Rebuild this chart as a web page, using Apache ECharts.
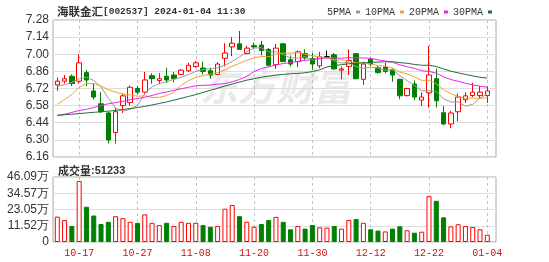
<!DOCTYPE html>
<html><head><meta charset="utf-8">
<script src="https://cdn.jsdelivr.net/npm/echarts@6/dist/echarts.min.js"></script>
<style>html,body{margin:0;padding:0;background:#fff}#c{width:549px;height:262px}</style>
</head><body><div id="c"></div>
<script>
const dates = ['10-12','10-13','10-16','10-17','10-18','10-19','10-20','10-23','10-24','10-25','10-26','10-27','10-30','10-31',
'11-01','11-02','11-03','11-06','11-07','11-08','11-09','11-10','11-13','11-14','11-15','11-16','11-17','11-20','11-21','11-22','11-23','11-24','11-27','11-28','11-29','11-30',
'12-01','12-04','12-05','12-06','12-07','12-08','12-11','12-12','12-13','12-14','12-15','12-18','12-19','12-20','12-21','12-22','12-25','12-26','12-27','12-28','12-29',
'01-02','01-03','01-04'];
const opens = [6.75,6.78,6.82,6.78,6.85,6.70,6.595,6.52,6.36,6.58,6.605,6.72,6.69,6.825,6.785,6.82,6.83,6.835,6.865,6.90,
6.887,6.865,6.835,6.967,7.06,7.085,7.005,7.07,7.075,7.04,6.915,7.085,6.955,6.94,7.005,6.965,6.905,6.98,6.995,6.87,
6.90,7.005,6.795,6.96,6.89,6.895,6.87,6.795,6.662,6.757,6.625,6.685,6.80,6.522,6.43,6.53,6.628,6.663,6.662,6.662];
const closes = [6.78,6.80,6.76,6.93,6.79,6.65,6.53,6.30,6.53,6.66,6.73,6.69,6.79,6.80,6.80,6.79,6.80,6.87,6.91,6.93,
6.86,6.83,6.92,7.01,7.09,7.04,7.05,7.06,7.03,6.91,7.05,6.94,6.92,7.02,6.97,6.92,6.98,6.98,6.88,6.88,
6.95,6.80,6.92,6.92,6.85,6.86,6.83,6.66,6.72,6.65,6.65,6.83,6.62,6.43,6.52,6.65,6.66,6.69,6.69,6.70];
const lows = [6.70,6.76,6.74,6.76,6.74,6.63,6.52,6.27,6.27,6.52,6.58,6.67,6.67,6.76,6.755,6.765,6.77,6.83,6.855,6.887,
6.833,6.80,6.83,6.90,6.985,7.035,7.00,7.04,6.99,6.90,6.88,6.935,6.90,6.895,6.955,6.875,6.885,6.965,6.875,6.795,
6.83,6.795,6.75,6.90,6.84,6.845,6.775,6.632,6.655,6.625,6.577,6.562,6.565,6.42,6.395,6.452,6.602,6.65,6.635,6.602];
const highs = [6.81,6.83,6.835,7.00,6.87,6.76,6.69,6.53,6.56,6.68,6.745,6.74,6.855,6.845,6.845,6.89,6.855,6.88,6.93,6.945,
6.94,6.89,6.935,7.09,7.14,7.19,7.07,7.095,7.11,7.05,7.085,7.09,6.99,7.03,7.04,7.01,7.02,7.03,7.01,6.90,
7.04,7.01,6.94,6.97,6.905,6.93,6.885,6.80,6.727,6.785,6.688,7.068,6.882,6.576,6.537,6.68,6.69,6.766,6.738,6.738];
const ma5 = [6.74,6.75,6.77,6.80,6.812,6.786,6.732,6.640,6.560,6.534,6.550,6.582,6.680,6.734,6.762,6.774,6.796,6.812,6.834,6.860,
6.874,6.880,6.890,6.910,6.942,6.978,7.022,7.050,7.054,7.018,7.020,6.998,6.970,6.968,6.980,6.954,6.962,6.974,6.946,6.928,
6.934,6.898,6.886,6.894,6.888,6.870,6.876,6.824,6.784,6.744,6.702,6.702,6.694,6.636,6.610,6.610,6.576,6.590,6.642,6.678];
const ma10 = [6.59,6.63,6.67,6.73,6.76,6.76,6.74,6.71,6.69,6.673,6.668,6.657,6.660,6.647,6.648,6.662,6.689,6.746,6.784,6.811,
6.824,6.838,6.851,6.872,6.901,6.926,6.951,6.970,6.982,6.980,6.999,7.010,7.010,7.011,6.999,6.987,6.980,6.972,6.957,6.954,
6.944,6.930,6.930,6.920,6.908,6.902,6.887,6.855,6.839,6.816,6.786,6.789,6.759,6.710,6.677,6.656,6.639,6.642,6.639,6.644];
const ma20 = [6.50,6.51,6.525,6.54,6.55,6.565,6.58,6.595,6.605,6.615,6.628,6.638,6.648,6.663,6.68,6.692,6.705,6.718,6.73,6.742,
6.746,6.748,6.756,6.760,6.775,6.794,6.820,6.858,6.883,6.896,6.912,6.924,6.931,6.942,6.950,6.957,6.966,6.971,6.970,6.967,
6.972,6.970,6.970,6.966,6.954,6.945,6.934,6.914,6.898,6.885,6.865,6.860,6.845,6.815,6.793,6.779,6.763,6.749,6.739,6.730];
const ma30 = [6.50,6.505,6.51,6.515,6.52,6.525,6.53,6.535,6.54,6.548,6.556,6.564,6.574,6.585,6.598,6.61,6.625,6.64,6.655,6.67,
6.688,6.705,6.722,6.74,6.757,6.772,6.788,6.80,6.812,6.821,6.830,6.835,6.840,6.843,6.849,6.858,6.873,6.896,6.908,6.915,
6.922,6.926,6.930,6.934,6.936,6.938,6.939,6.932,6.926,6.917,6.910,6.910,6.900,6.880,6.861,6.848,6.835,6.823,6.812,6.805];
const volumes = [180000,155000,113000,433000,250000,188000,128000,143000,183000,169000,143000,136000,196000,136000,120000,136000,113000,143000,136000,136000,
120000,108000,113000,236000,262000,183000,143000,108000,128000,156000,178000,143000,90000,113000,95000,120000,104000,102000,113000,95000,
156000,163000,136000,90000,81000,75000,95000,111000,83000,66000,73000,325000,292000,175000,111000,126000,113000,106000,90000,51233];
const volUp = [1,1,0,1,0,0,0,0,1,1,1,0,1,1,1,0,1,1,1,1,0,0,1,1,1,0,1,1,0,0,1,0,0,1,0,0,1,1,0,1,1,0,1,0,0,1,0,0,1,0,1,1,0,0,1,1,1,1,1,1];
const priceTicks = ['6.16','6.30','6.44','6.58','6.72','6.86','7.00','7.14','7.28'];
const volTicks = ['0','11.52万','23.05万','34.57万','46.09万'];
const maNames = ['5PMA','10PMA','20PMA','30PMA'];
const maColors = ['#9a9a9a','#f0a030','#f020f0','#1f6b35'];

const chart = echarts.init(document.getElementById('c'));
const kData = dates.map((d, i) => [opens[i], closes[i], lows[i], highs[i]]);
const volData = volumes.map((v, i) => ({
  value: v,
  itemStyle: volUp[i] ? {color: '#fff', borderColor: '#f00', borderWidth: 1}
                      : {color: '#008000', borderColor: '#008000', borderWidth: 1}
}));
const showIdx = (i) => (i - 3) % 8 === 0;
const vSplit = {show: true, interval: (i) => showIdx(i), lineStyle: {color: '#c4c4c4', type: [3, 3], width: 1}};
const maSeries = [ma5, ma10, ma20, ma30].map((d, k) => ({
  name: maNames[k], type: 'line', xAxisIndex: 1, yAxisIndex: 1, data: d,
  symbol: 'none', color: maColors[k], lineStyle: {width: 1, color: maColors[k]}, clip: false, silent: true
}));
const option = {
  animation: false,
  title: [
    {left: 52, top: 1, text: '{a|海联金汇}{b|[002537] 2024-01-04 11:30}',
     textStyle: {rich: {a: {fontSize: 11.5, fontFamily: 'Noto Sans CJK SC', color: '#333'},
                        b: {fontSize: 9.5, fontFamily: 'Liberation Mono', color: '#333'}}}},
    {left: 53, top: 160, text: '{a|成交量}{b|:' + volumes[volumes.length - 1] + '}',
     textStyle: {rich: {a: {fontSize: 11, fontFamily: 'Noto Sans CJK SC', color: '#333'},
                        b: {fontSize: 11, fontFamily: 'Liberation Sans', color: '#333'}}}}
  ],
  legend: {left: 322, top: 2, icon: 'rect', itemWidth: 4, itemHeight: 3, align: 'right', itemGap: 5,
           selectedMode: false, data: maNames,
           textStyle: {fontSize: 10, fontFamily: 'Liberation Mono', color: '#333'}},
  graphic: [{type: 'text', left: 200, top: 68, z: -1, silent: true,
             style: {text: '东方财富', font: 'italic bold 38px "Noto Sans CJK SC"', fill: '#eaeaea'}}],
  grid: [
    {left: 53, top: 20, width: 443, height: 137, show: true, borderColor: '#aaaaaa', borderWidth: 1},
    {left: 57.3, top: 20, width: 430, height: 137},
    {left: 53, top: 177, width: 443, height: 65, show: true, borderColor: '#aaaaaa', borderWidth: 1},
    {left: 57.3, top: 177, width: 430, height: 65}
  ],
  xAxis: [
    {gridIndex: 0, type: 'value', show: false, min: 0, max: 1},
    {gridIndex: 1, type: 'category', data: dates, boundaryGap: false, axisLine: {show: false},
     axisTick: {show: false}, axisLabel: {show: false}, splitLine: vSplit},
    {gridIndex: 2, type: 'value', show: false, min: 0, max: 1},
    {gridIndex: 3, type: 'category', data: dates, boundaryGap: false, axisLine: {show: false},
     axisTick: {show: false}, splitLine: vSplit,
     axisLabel: {show: true, interval: (i) => showIdx(i), color: '#d01010', fontSize: 10,
                 fontFamily: 'Liberation Mono', margin: 6}}
  ],
  yAxis: [
    {gridIndex: 0, type: 'value', min: 6.16, max: 7.28, interval: 0.14,
     axisLine: {show: false}, axisTick: {show: false},
     axisLabel: {color: '#333', fontSize: 12, fontFamily: 'Liberation Sans', margin: 4,
                 formatter: (v) => priceTicks[Math.round((v - 6.16) / 0.14)]},
     splitLine: {lineStyle: {color: '#dddddd'}}},
    {gridIndex: 1, type: 'value', min: 6.16, max: 7.28, show: false, splitLine: {show: false}},
    {gridIndex: 2, type: 'value', min: 0, max: 460900, interval: 115225,
     axisLine: {show: false}, axisTick: {show: false},
     axisLabel: {color: '#333', fontSize: 12, fontFamily: 'Liberation Sans', margin: 4,
                 formatter: (v) => volTicks[Math.round(v / 115225)]},
     splitLine: {lineStyle: {color: '#dddddd'}}},
    {gridIndex: 3, type: 'value', min: 0, max: 460900, show: false, splitLine: {show: false}}
  ],
  series: [
    {type: 'candlestick', xAxisIndex: 1, yAxisIndex: 1, data: kData, barWidth: 5, clip: false,
     itemStyle: {color: '#fff', color0: '#008000', borderColor: '#f00', borderColor0: '#008000',
                 borderColorDoji: '#000', borderWidth: 1}},
    ...maSeries,
    {type: 'bar', xAxisIndex: 3, yAxisIndex: 3, data: volData, barWidth: 5, clip: false}
  ]
};
chart.setOption(option);
</script></body></html>
